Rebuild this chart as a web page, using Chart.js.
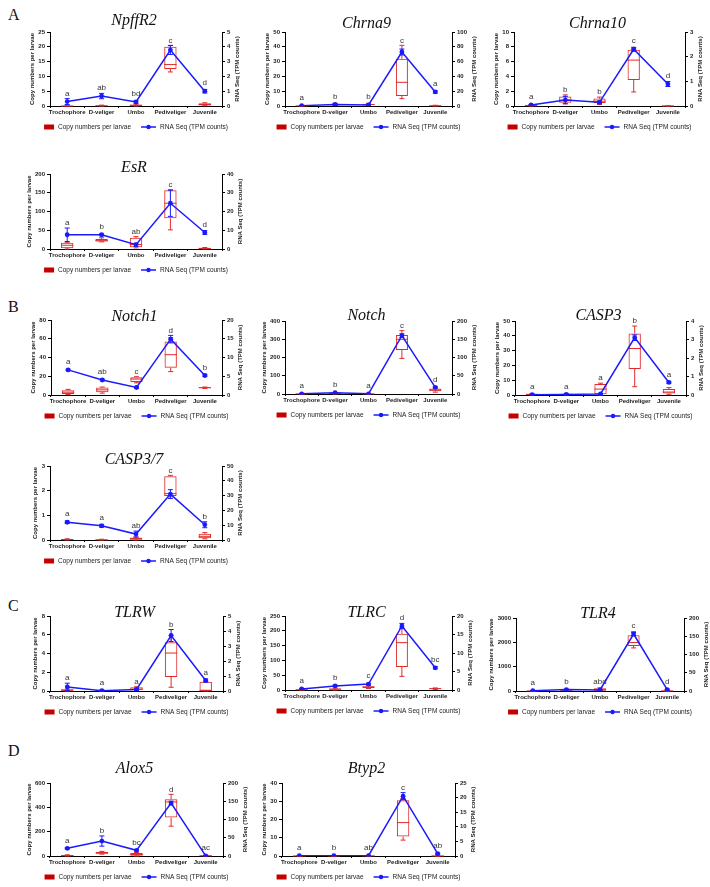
<!DOCTYPE html>
<html>
<head>
<meta charset="utf-8">
<script src="https://cdn.jsdelivr.net/npm/chart.js@4.4.1/dist/chart.umd.min.js"></script>
<style>
  html, body { margin: 0; padding: 0; background: #fff; }
  body { width: 710px; height: 887px; position: relative; overflow: hidden; }
  canvas { position: absolute; }
  .sec { position: absolute; font-family: "Liberation Serif", serif; font-size: 16px; color: #111; }
</style>
</head>
<body>
<div class="sec" style="left:8px;top:6px">A</div>
<div class="sec" style="left:8px;top:298px">B</div>
<div class="sec" style="left:8px;top:597px">C</div>
<div class="sec" style="left:8px;top:742px">D</div>

<script>
// stages on the x axis
const stages = ["Trochophore", "D-veliger", "Umbo", "Pediveliger", "Juvenile"];

// box stats per stage: [min, q1, median, q3, max] (copy numbers per larvae)
// rna: mean TPM, err: error bar, scale: [leftMax, leftStep, rightMax, rightStep]
const npffr2Box = [[0,0,0,0.1,0.2],[0,0,0.1,0.2,0.3],[0,0.1,0.2,0.5,0.6],[11.5,12.5,14,20,20.5],[0.1,0.2,0.5,0.9,1.1]];
const npffr2Rna = [0.3, 0.67, 0.27, 3.78, 1.0];
const npffr2Err = [0.2, 0.18, 0.08, 0.3, 0.12];
const npffr2Letters = ["a", "ab", "bd", "c", "d"];
const npffr2Scale = [25, 5, 5, 1];

const chrna9Box = [[0,0,0.1,0.2,0.3],[0.3,0.6,1,1.4,1.8],[0.3,0.6,1,1.5,1.8],[5,6.7,16,32,41],[0,0.1,0.2,0.4,0.5]];
const chrna9Rna = [0.5, 2, 1.5, 73, 19];
const chrna9Err = [0.3, 1, 0.5, 4, 1.5];
const chrna9Letters = ["a", "b", "b", "c", "a"];
const chrna9Scale = [50, 10, 100, 20];

const chrna10Box = [[0,0.02,0.05,0.15,0.2],[0.3,0.45,0.8,1.3,1.5],[0.2,0.4,0.65,1.0,1.2],[1.9,3.5,6.2,7.6,7.8],[0,0,0.01,0.02,0.03]];
const chrna10Rna = [0.04, 0.24, 0.15, 2.3, 0.89];
const chrna10Err = [0.02, 0.15, 0.05, 0.08, 0.1];
const chrna10Letters = ["a", "b", "b", "c", "d"];
const chrna10Scale = [10, 2, 3, 1];

const esrBox = [[0,2,10,17,18],[19,20,22,27,30],[3,5,12,30,33],[51,82,122,157,158],[0,0.5,1.5,3.5,4]];
const esrRna = [7.6, 7.6, 2.3, 24.4, 8.8];
const esrErr = [3.6, 0.5, 0.8, 7, 1];
const esrLetters = ["a", "b", "ab", "c", "d"];
const esrScale = [200, 50, 40, 10];

const notch1Box = [[0.5,1,3,5,6],[2,3,5.5,8,8.5],[13,14,17,19,19.5],[25,29,43,57,61],[7,7.2,7.8,8.3,8.5]];
const notch1Rna = [6.7, 4.0, 2.0, 14.9, 5.2];
const notch1Err = [0.2, 0.2, 0.2, 1.0, 0.3];
const notch1Letters = ["a", "ab", "c", "d", "b"];
const notch1Scale = [80, 20, 20, 5];

const notchBox = [[0,0,1,2,3],[0,1,3,5,6],[0,0,1,2,3],[195,241,300,323,347],[10,15,22,30,35]];
const notchRna = [0.5, 3.6, 0.5, 160, 18];
const notchErr = [0.3, 1, 0.3, 5, 2];
const notchLetters = ["a", "b", "a", "c", "d"];
const notchScale = [400, 100, 200, 50];

const casp3Box = [[0,0.1,0.4,0.9,1],[0,0.1,0.4,0.9,1],[0,0.5,4,7.5,8],[5.6,17.5,31.4,41.5,46.6],[0.5,1,2,4,5]];
const casp3Rna = [0.02, 0.03, 0.06, 3.1, 0.68];
const casp3Err = [0.01, 0.01, 0.02, 0.15, 0.05];
const casp3Letters = ["a", "a", "a", "b", "a"];
const casp3Scale = [50, 10, 4, 1];

const casp37Box = [[0,0.01,0.02,0.04,0.05],[0,0,0.01,0.02,0.03],[0,0.01,0.05,0.1,0.12],[1.75,1.78,1.88,2.58,2.62],[0.05,0.07,0.15,0.25,0.3]];
const casp37Rna = [12, 9.6, 4, 31, 10.3];
const casp37Err = [0.8, 1, 2, 3, 2];
const casp37Letters = ["a", "a", "ab", "c", "b"];
const casp37Scale = [3, 1, 50, 10];

const tlrwBox = [[0,0.02,0.08,0.18,0.2],[0,0.01,0.05,0.1,0.12],[0.05,0.08,0.2,0.4,0.45],[0.4,1.5,4.05,5.2,5.9],[0,0.02,0.05,1.0,1.0]];
const tlrwRna = [0.27, 0.02, 0.1, 3.7, 0.7];
const tlrwErr = [0.25, 0.02, 0.05, 0.4, 0.1];
const tlrwLetters = ["a", "a", "a", "b", "a"];
const tlrwScale = [8, 2, 5, 1];

const tlrcBox = [[0,0.5,1,2,2.5],[0,1,3,5,6],[5,7,10,13,15],[46,78,160,190,210],[2,3,4.5,6,7]];
const tlrcRna = [0.3, 1.1, 1.6, 17.3, 6];
const tlrcErr = [0.1, 0.2, 0.2, 0.7, 0.3];
const tlrcLetters = ["a", "b", "c", "d", "bc"];
const tlrcScale = [250, 50, 20, 5];

const tlr4Box = [[0,2,5,10,12],[10,20,30,40,50],[10,15,50,110,130],[1770,1850,1990,2290,2440],[0,2,5,10,12]];
const tlr4Rna = [1, 4, 3, 156, 4];
const tlr4Err = [0.5, 1, 1, 4, 1];
const tlr4Letters = ["a", "b", "abd", "c", "d"];
const tlr4Scale = [3000, 1000, 200, 50];

const alox5Box = [[0,1,3,8,10],[15,18,25,35,38],[0,3,12,25,28],[245,316,444,466,507],[0,1,2,5,6]];
const alox5Rna = [21, 41, 15.5, 145, 0.5];
const alox5Err = [2, 14, 2, 5, 0.3];
const alox5Letters = ["a", "b", "bc", "d", "ac"];
const alox5Scale = [600, 200, 200, 50];

const btyp2Box = [[0,0,0.05,0.1,0.1],[0,0,0.05,0.1,0.1],[0,0.05,0.1,0.2,0.25],[8.7,10.7,18.3,30.6,31.5],[0,0,0.05,0.1,0.1]];
const btyp2Rna = [0.1, 0.1, 0.1, 20.5, 0.8];
const btyp2Err = [0.05, 0.05, 0.05, 1.2, 0.2];
const btyp2Letters = ["a", "b", "ab", "c", "ab"];
const btyp2Scale = [40, 10, 25, 5];

const boxRed = "#e22a2a";
const legendRed = "#c40000";
const blue = "#1a1aff";
const sans = '"Liberation Sans", Arial, sans-serif';

// plot area of each panel on the page (left, right, top, bottom) and title offset
const panels = [
  { title: "NpffR2", box: npffr2Box, rna: npffr2Rna, err: npffr2Err, letters: npffr2Letters, scale: npffr2Scale, L: 50, R: 222, T: 32, B: 106, dy: -11 },
  { title: "Chrna9", box: chrna9Box, rna: chrna9Rna, err: chrna9Err, letters: chrna9Letters, scale: chrna9Scale, L: 285, R: 452, T: 32, B: 106, dy: -8 },
  { title: "Chrna10", box: chrna10Box, rna: chrna10Rna, err: chrna10Err, letters: chrna10Letters, scale: chrna10Scale, L: 514, R: 685, T: 32, B: 106, dy: -8 },
  { title: "EsR", box: esrBox, rna: esrRna, err: esrErr, letters: esrLetters, scale: esrScale, L: 50, R: 222, T: 174, B: 249, dy: -6 },
  { title: "Notch1", box: notch1Box, rna: notch1Rna, err: notch1Err, letters: notch1Letters, scale: notch1Scale, L: 51, R: 222, T: 320, B: 395, dy: -3 },
  { title: "Notch", box: notchBox, rna: notchRna, err: notchErr, letters: notchLetters, scale: notchScale, L: 285, R: 452, T: 321, B: 394, dy: -5 },
  { title: "CASP3", box: casp3Box, rna: casp3Rna, err: casp3Err, letters: casp3Letters, scale: casp3Scale, L: 515, R: 686, T: 321, B: 395, dy: -5 },
  { title: "CASP3/7", box: casp37Box, rna: casp37Rna, err: casp37Err, letters: casp37Letters, scale: casp37Scale, L: 50, R: 222, T: 466, B: 540, dy: -6 },
  { title: "TLRW", box: tlrwBox, rna: tlrwRna, err: tlrwErr, letters: tlrwLetters, scale: tlrwScale, L: 50, R: 223, T: 616, B: 691, dy: -3 },
  { title: "TLRC", box: tlrcBox, rna: tlrcRna, err: tlrcErr, letters: tlrcLetters, scale: tlrcScale, L: 285, R: 452, T: 616, B: 690, dy: -3 },
  { title: "TLR4", box: tlr4Box, rna: tlr4Rna, err: tlr4Err, letters: tlr4Letters, scale: tlr4Scale, L: 516, R: 684, T: 618, B: 691, dy: -4 },
  { title: "Alox5", box: alox5Box, rna: alox5Rna, err: alox5Err, letters: alox5Letters, scale: alox5Scale, L: 50, R: 223, T: 783, B: 856, dy: -14 },
  { title: "Btyp2", box: btyp2Box, rna: btyp2Rna, err: btyp2Err, letters: btyp2Letters, scale: btyp2Scale, L: 282, R: 455, T: 783, B: 856, dy: -14 }
];

const tickFontCss = "bold 6px " + sans;

function widestTick(ctx, scale) {
  ctx.font = tickFontCss;
  let w = 0;
  scale.ticks.forEach(t => { w = Math.max(w, ctx.measureText(String(t.label)).width); });
  return w;
}

// whiskers, medians, error bars, letters, titles and legend
function overlay(p) {
  return {
    id: "overlay",
    beforeDatasetsDraw(chart) {
      const ctx = chart.ctx, y = chart.scales.y;
      const bars = chart.getDatasetMeta(0).data;
      ctx.save();
      ctx.strokeStyle = boxRed;
      ctx.lineWidth = 1;
      p.box.forEach((s, i) => {
        const cx = bars[i].x, hw = bars[i].width / 2, cap = 2.5;
        const [mn, q1, md, q3, mx] = s.map(v => y.getPixelForValue(v));
        ctx.beginPath();
        ctx.moveTo(cx, q3); ctx.lineTo(cx, mx);
        ctx.moveTo(cx - cap, mx); ctx.lineTo(cx + cap, mx);
        ctx.moveTo(cx, q1); ctx.lineTo(cx, mn);
        ctx.moveTo(cx - cap, mn); ctx.lineTo(cx + cap, mn);
        ctx.moveTo(cx - hw, md); ctx.lineTo(cx + hw, md);
        ctx.stroke();
      });
      ctx.restore();
    },
    afterDatasetsDraw(chart) {
      const ctx = chart.ctx, y = chart.scales.y, y1 = chart.scales.y1;
      const pts = chart.getDatasetMeta(1).data;
      ctx.save();
      ctx.strokeStyle = blue;
      ctx.lineWidth = 1;
      p.rna.forEach((v, i) => {
        const cx = pts[i].x;
        const hi = y1.getPixelForValue(v + p.err[i]);
        const lo = y1.getPixelForValue(Math.max(0, v - p.err[i]));
        ctx.beginPath();
        ctx.moveTo(cx, lo); ctx.lineTo(cx, hi);
        ctx.moveTo(cx - 2.5, hi); ctx.lineTo(cx + 2.5, hi);
        ctx.moveTo(cx - 2.5, lo); ctx.lineTo(cx + 2.5, lo);
        ctx.stroke();
      });
      ctx.fillStyle = "#333";
      ctx.font = "8px " + sans;
      ctx.textAlign = "center";
      ctx.textBaseline = "bottom";
      p.letters.forEach((t, i) => {
        const top = Math.min(
          y.getPixelForValue(p.box[i][4]),
          y1.getPixelForValue(p.rna[i] + p.err[i]),
          pts[i].y - 3
        );
        ctx.fillText(t, pts[i].x, top - 1);
      });
      ctx.restore();
    },
    afterDraw(chart) {
      const ctx = chart.ctx, a = chart.chartArea;
      const cx = (a.left + a.right) / 2, cy = (a.top + a.bottom) / 2;
      ctx.save();
      const wl = widestTick(ctx, chart.scales.y);
      const wr = widestTick(ctx, chart.scales.y1);

      ctx.fillStyle = "#111";
      ctx.font = 'italic 16px "Liberation Serif", serif';
      ctx.textAlign = "center";
      ctx.textBaseline = "middle";
      ctx.fillText(p.title, cx - 2, a.top + p.dy);

      ctx.font = "bold 6px " + sans;
      ctx.fillStyle = "#222";
      [[a.left - 5 - wl - 6, "Copy numbers per larvae"], [a.right + 5 + wr + 7, "RNA Seq (TPM counts)"]].forEach(([x, t]) => {
        ctx.save();
        ctx.translate(x, cy);
        ctx.rotate(-Math.PI / 2);
        ctx.fillText(t, 0, 0);
        ctx.restore();
      });

      // legend
      const t1 = "Copy numbers per larvae", t2 = "RNA Seq (TPM counts)";
      ctx.font = "6.5px " + sans;
      const w1 = ctx.measureText(t1).width, w2 = ctx.measureText(t2).width;
      const total = 10 + 4 + w1 + 10 + 15 + 4 + w2;
      let x = cx - total / 2;
      const ly = a.bottom + 21;
      ctx.fillStyle = legendRed;
      ctx.fillRect(x, ly - 2.5, 10, 5);
      x += 14;
      ctx.fillStyle = "#222";
      ctx.textAlign = "left";
      ctx.fillText(t1, x, ly);
      x += w1 + 10;
      ctx.strokeStyle = blue;
      ctx.lineWidth = 1.5;
      ctx.beginPath(); ctx.moveTo(x, ly); ctx.lineTo(x + 15, ly); ctx.stroke();
      ctx.fillStyle = blue;
      ctx.beginPath(); ctx.arc(x + 7.5, ly, 2.2, 0, Math.PI * 2); ctx.fill();
      x += 19;
      ctx.fillStyle = "#222";
      ctx.fillText(t2, x, ly);
      ctx.restore();
    }
  };
}

const padL = 50, padR = 25, padT = 30, padB = 30;

panels.forEach(p => {
  const canvas = document.createElement("canvas");
  const w = p.R - p.L + padL + padR, h = p.B - p.T + padT + padB;
  canvas.width = w; canvas.height = h;
  canvas.style.left = (p.L - padL) + "px";
  canvas.style.top = (p.T - padT) + "px";
  canvas.style.width = w + "px";
  canvas.style.height = h + "px";
  document.body.appendChild(canvas);

  const tickFont = { family: sans, size: 6, weight: "bold" };
  const plain = v => String(v);
  new Chart(canvas.getContext("2d"), {
    data: {
      labels: stages,
      datasets: [
        {
          type: "bar",
          label: "Copy numbers per larvae",
          data: p.box.map(s => [s[1], s[3]]),
          yAxisID: "y",
          backgroundColor: "rgba(255,255,255,0)",
          borderColor: boxRed,
          borderWidth: 1,
          borderSkipped: false,
          barPercentage: 0.36,
          categoryPercentage: 1,
          order: 1
        },
        {
          type: "line",
          label: "RNA Seq (TPM counts)",
          data: p.rna,
          yAxisID: "y1",
          borderColor: blue,
          backgroundColor: blue,
          borderWidth: 1.5,
          pointRadius: 2.4,
          pointBackgroundColor: blue,
          pointBorderWidth: 0,
          tension: 0,
          order: 0
        }
      ]
    },
    options: {
      responsive: false,
      animation: false,
      devicePixelRatio: 1,
      layout: { padding: { left: padL - 40, right: padR - 20, top: padT, bottom: padB - 14 } },
      plugins: { legend: { display: false }, tooltip: { enabled: false }, title: { display: false } },
      scales: {
        x: {
          offset: true,
          grid: { drawOnChartArea: false, drawTicks: true, tickLength: 2, color: "#000" },
          border: { color: "#000", width: 1 },
          ticks: { font: tickFont, color: "#222", autoSkip: false, maxRotation: 0, padding: 1 },
          afterFit: s => { s.height = 14; }
        },
        y: {
          position: "left",
          min: 0, max: p.scale[0],
          grid: { drawOnChartArea: false, drawTicks: true, tickLength: 3, color: "#000" },
          border: { color: "#000", width: 1 },
          ticks: { stepSize: p.scale[1], font: tickFont, color: "#222", padding: 2, callback: plain },
          afterFit: s => { s.width = 40; }
        },
        y1: {
          position: "right",
          min: 0, max: p.scale[2],
          grid: { drawOnChartArea: false, drawTicks: true, tickLength: 3, color: "#000" },
          border: { color: "#000", width: 1 },
          ticks: { stepSize: p.scale[3], font: tickFont, color: "#222", padding: 2, callback: plain },
          afterFit: s => { s.width = 20; }
        }
      }
    },
    plugins: [overlay(p)]
  });
});
</script>
</body>
</html>
